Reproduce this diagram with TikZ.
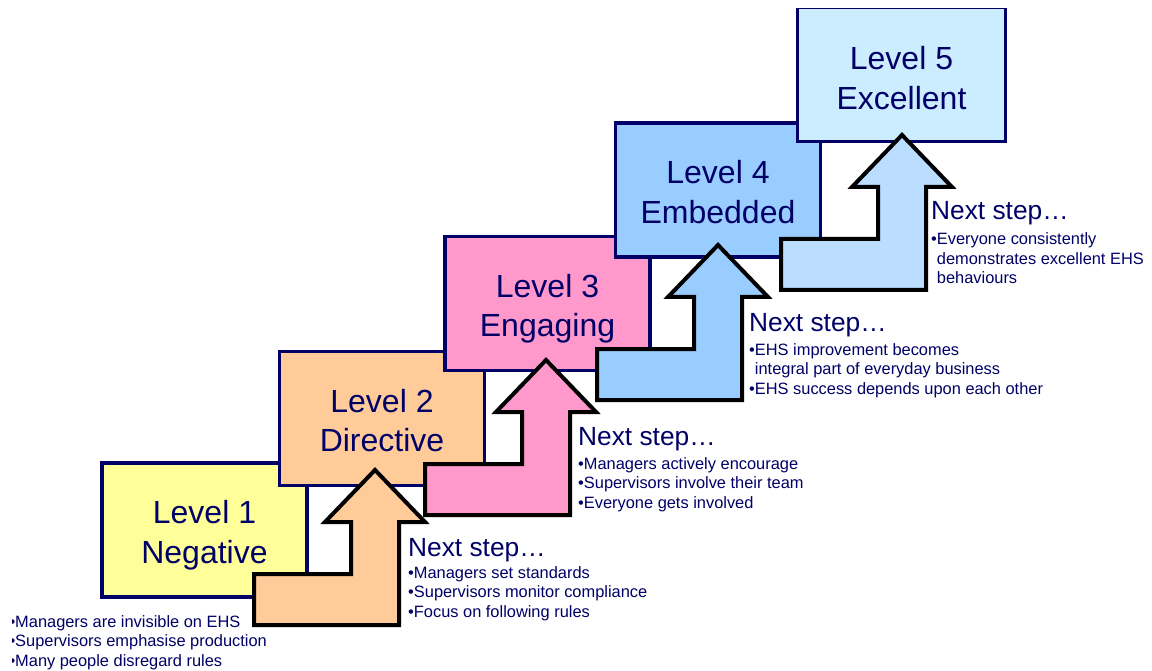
\documentclass[tikz,border=0pt]{standalone}
\usepackage{fontspec}
\setmainfont{Liberation Sans}
\usepackage{tikz}
\usetikzlibrary{positioning}
\usepackage{xcolor}
\definecolor{lvlnavy}{RGB}{0,0,102}
\definecolor{lvlone}{RGB}{255,255,153}
\definecolor{lvltwo}{RGB}{255,204,153}
\definecolor{lvlthree}{RGB}{255,153,204}
\definecolor{lvlfour}{RGB}{153,204,255}
\definecolor{lvlfive}{RGB}{204,236,255}
\definecolor{stepfour}{RGB}{187,221,255}

\begin{document}
\begin{tikzpicture}[x=1pt, y=-1pt, every node/.style={text=lvlnavy, inner sep=0pt},
  lvlbox/.style={draw=lvlnavy, line width=3.3pt, minimum width=205pt, minimum height=134pt, align=center, font=\fontsize{32}{39.5}\selectfont, text height=66.5pt, text depth=0pt},
  stair/.style={draw=black, line width=4pt, line join=miter},
  nexttitle/.style={anchor=west, font=\fontsize{26.3}{30}\selectfont},
  nextlist/.style={anchor=west, align=left, font=\fontsize{16.4}{19.6}\selectfont}]
  \useasboundingbox (0,0) rectangle (1152,671);
  \node[lvlbox, fill=lvlone] (lvl1) at (204.5,530) {Level 1\\Negative};
  \node[lvlbox, fill=lvltwo] (lvl2) at (382,418.5) {Level 2\\Directive};
  \node[lvlbox, fill=lvlthree] (lvl3) at (547.5,303.5) {Level 3\\Engaging};
  \node[lvlbox, fill=lvlfour] (lvl4) at (718,190) {Level 4\\Embedded};
  \begin{scope}
    \clip (0,9) rectangle (1152,671);
    \node[lvlbox, fill=lvlfive, minimum width=208pt, text height=70pt] (lvl5) at (901.5,74.5) {Level 5\\Excellent};
  \end{scope}
  \coordinate (tip1) at (375,470);
  \coordinate (tip2) at (546,360);
  \coordinate (tip3) at (718,245);
  \coordinate (tip4) at (902,135);
  \draw[stair, fill=lvltwo] (tip1) -- ++(50,52) -- ++(-26,0) -- ++(0,103) -- ++(-145,0) -- ++(0,-51) -- ++(97,0) -- ++(0,-52) -- ++(-26,0) -- cycle;
  \draw[stair, fill=lvlthree] (tip2) -- ++(50,52) -- ++(-26,0) -- ++(0,103) -- ++(-145,0) -- ++(0,-51) -- ++(97,0) -- ++(0,-52) -- ++(-26,0) -- cycle;
  \draw[stair, fill=lvlfour] (tip3) -- ++(50,52) -- ++(-26,0) -- ++(0,103) -- ++(-145,0) -- ++(0,-51) -- ++(97,0) -- ++(0,-52) -- ++(-26,0) -- cycle;
  \draw[stair, fill=stepfour] (tip4) -- ++(50,52) -- ++(-26,0) -- ++(0,103) -- ++(-145,0) -- ++(0,-51) -- ++(97,0) -- ++(0,-52) -- ++(-26,0) -- cycle;
  \begin{scope}
    \clip (12,600) rectangle (400,671);
    \node[nextlist] (list0) at (9.3,642.5) {•Managers are invisible on EHS\\•Supervisors emphasise production\\•Many people disregard rules};
  \end{scope}
  \node[nexttitle] (next1) at (408,550) {Next step…};
  \node[nextlist] (list1) at (408,593.5) {•Managers set standards\\•Supervisors monitor compliance\\•Focus on following rules};
  \node[nexttitle] (next2) at (578,439) {Next step…};
  \node[nextlist] (list2) at (578,484.5) {•Managers actively encourage\\•Supervisors involve their team\\•Everyone gets involved};
  \node[nexttitle] (next3) at (749,325) {Next step…};
  \node[nextlist] (list3) at (749,370.5) {•EHS improvement becomes\\\hphantom{•}integral part of everyday business\\•EHS success depends upon each other};
  \node[nexttitle] (next4) at (931,213) {Next step…};
  \node[nextlist] (list4) at (931,258.5) {•Everyone consistently\\\hphantom{•}demonstrates excellent EHS\\\hphantom{•}behaviours};
\end{tikzpicture}
\end{document}
